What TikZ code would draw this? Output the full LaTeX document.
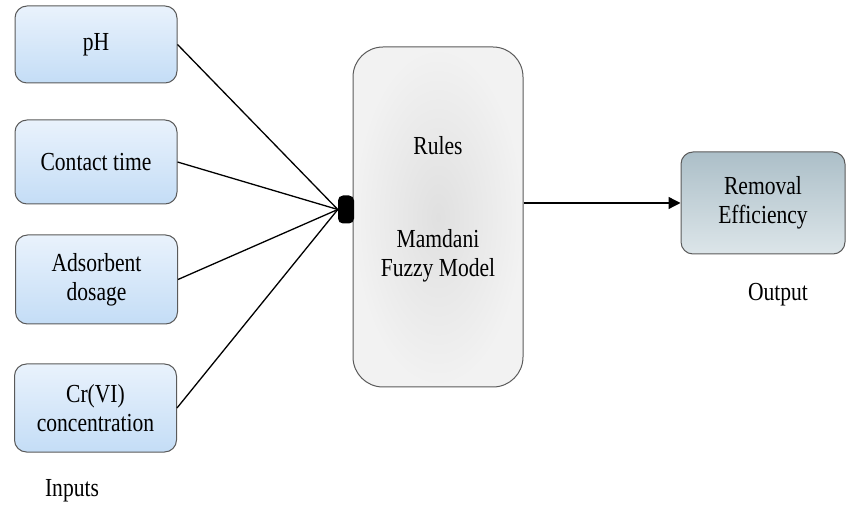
\documentclass[tikz,border=0pt]{standalone}
\usepackage{fontspec}
\setmainfont{Liberation Serif}[FakeStretch=0.83]
\usetikzlibrary{arrows.meta}
\definecolor{inlight}{RGB}{233,242,252}
\definecolor{indark}{RGB}{196,221,246}
\definecolor{rulelight}{RGB}{242,242,242}
\definecolor{ruledark}{RGB}{224,224,224}
\definecolor{outdark}{RGB}{172,191,200}
\definecolor{outlight}{RGB}{220,229,233}
\definecolor{edge}{RGB}{90,90,90}
\tikzset{
  txt/.style={font=\fontsize{26}{29}\selectfont, align=center},
  inbox/.style={txt, draw=edge, line width=1pt, rounded corners=12pt,
    top color=inlight, bottom color=indark, minimum width=162pt},
  rulebox/.style={draw=edge, line width=1pt, rounded corners=30pt,
    inner color=ruledark, outer color=rulelight,
    minimum width=170pt, minimum height=340pt},
  outbox/.style={txt, draw=edge, line width=1pt, rounded corners=12pt,
    top color=outdark, bottom color=outlight,
    minimum width=164pt, minimum height=102pt},
  hub/.style={fill=black, rounded corners=5pt, inner sep=0pt,
    minimum width=16pt, minimum height=28pt}
}
\begin{document}
\begin{tikzpicture}[x=1pt,y=-1pt]
  \useasboundingbox (0,0) rectangle (846,510);
  \node[inbox, minimum height=77pt] (ph) at (96,44.5) {pH};
  \node[inbox, minimum height=84pt] (time) at (96,162) {Contact time};
  \node[inbox, minimum height=89pt] (dose) at (96.5,279.5) {Adsorbent\\dosage};
  \node[inbox, minimum height=88pt] (conc) at (95.5,408) {Cr(VI)\\concentration};
  \node[txt] (inputs) at (72,491) {Inputs};
  \node[rulebox] (fuzzy) at (438,217) {};
  \node[txt] (rules) at (438,146) {Rules};
  \node[txt] (model) at (438,256) {Mamdani\\Fuzzy Model};
  \node[outbox] (out) at (763,203) {Removal\\Efficiency};
  \node[txt] (output) at (778,295) {Output};
  \node[hub] (join) at (346,209.5) {};
  \begin{scope}[line width=1.3pt]
    \draw (ph.east) -- (join.west);
    \draw (time.east) -- (join.west);
    \draw (dose.east) -- (join.west);
    \draw (conc.east) -- (join.west);
    \draw[-{Triangle[length=12pt,width=12pt]}] (fuzzy.east |- out.west) -- (out.west);
  \end{scope}
\end{tikzpicture}
\end{document}
